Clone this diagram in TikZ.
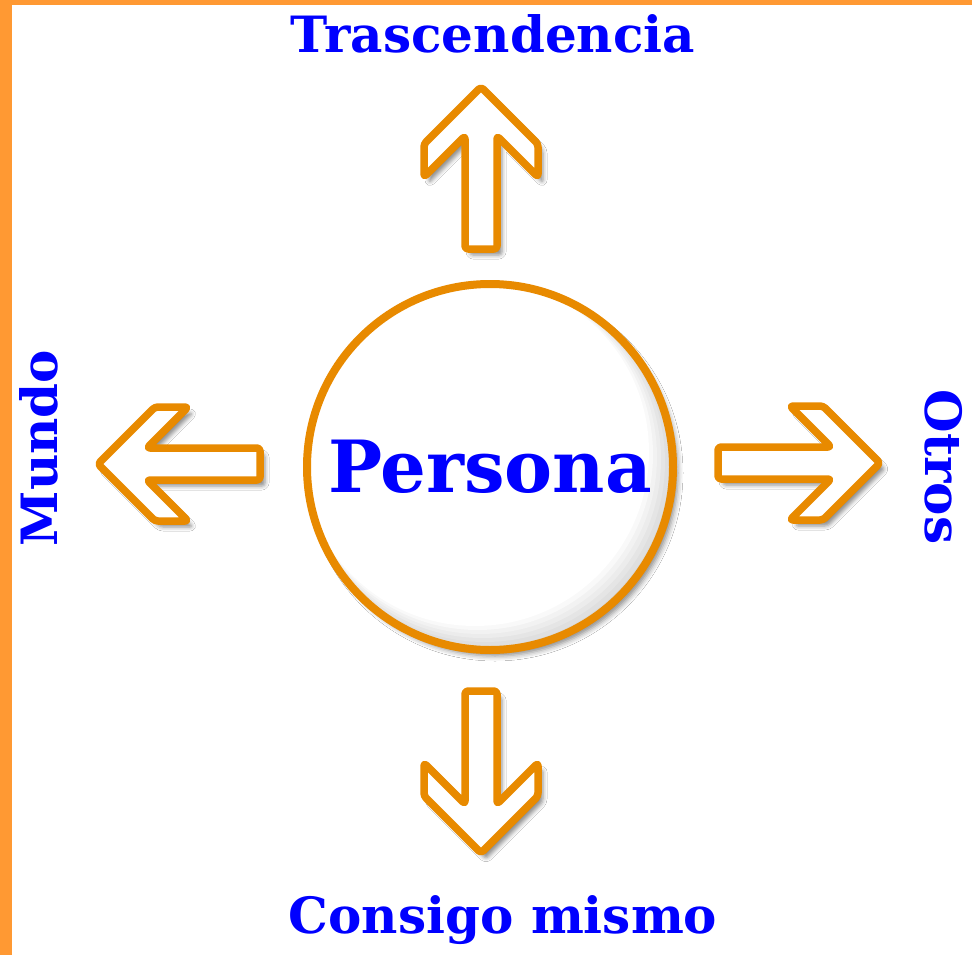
\documentclass[tikz,border=0pt]{standalone}
\usepackage{xcolor}
\usepackage{fontspec}
\setmainfont{DejaVu Serif}
\usepackage{tikz}
\usetikzlibrary{shapes.geometric, shadows.blur}
\definecolor{borde}{HTML}{FF9933}
\definecolor{naranja}{HTML}{E88A00}
\definecolor{azul}{HTML}{0000FF}
\tikzstyle{persona} = [circle, minimum size=366pt, inner sep=0pt, fill=white, blur shadow={shadow xshift=5pt, shadow yshift=-6pt, shadow blur radius=5pt, shadow opacity=45}]
\tikzstyle{anillo} = [draw=naranja, line width=8pt]
\tikzstyle{centro} = [text=azul, font=\bfseries\fontsize{72}{80}\selectfont]
\tikzstyle{etiqueta} = [text=azul, inner sep=0pt, anchor=base, font=\bfseries\fontsize{50}{54}\selectfont]
\tikzstyle{flechaborde} = [draw=naranja, fill=white, line width=7.5pt, rounded corners=3pt, line join=round, blur shadow={shadow xshift=5pt, shadow yshift=-6pt, shadow blur radius=4pt, shadow opacity=45}]
\tikzset{pics/flecha/.style={code={
	\draw[flechaborde]
		(0,0) -- (-57,57) -- (-90,57) -- (-49,16) -- (-162,16) -- (-162,-16) -- (-49,-16) -- (-90,-57) -- (-57,-57) -- cycle;
}}}

\begin{document}
\begin{tikzpicture}[x=1pt, y=1pt]
	
	\fill[white] (0,0) rectangle (972,-955);
	\fill[borde] (0,0) rectangle (12,-955);
	\fill[borde] (0,0) rectangle (972,-5);
	
	\node (pers) [persona] at (490,-467) {};
	% soft grey inside, lower right
	\begin{scope}
		\clip (pers.center) circle (183);
		\foreach \k in {0,...,6}
			\fill[white!\the\numexpr 100-(6-\k)*5\relax!gray] ($(pers.center)+(-2.5*\k,2.5*\k)$) circle ({183-1.5*\k});
	\end{scope}
	\draw[anillo] (pers.center) circle (183);
	\node (perstxt) [centro] at (pers.center) {Persona};
	
	\pic at (481,-87) [rotate=90] {flecha};
	\pic at (98,-464) [rotate=180] {flecha};
	\pic at (880,-463) {flecha};
	\pic at (481,-853) [rotate=-90] {flecha};
	
	\node (trasc) [etiqueta] at (493,-53) {Trascendencia};
	\node (consigo) [etiqueta] at (503,-933) {Consigo mismo};
	\node (mundo) [etiqueta, rotate=90] at (57,-448) {Mundo};
	\node (otros) [etiqueta, rotate=-90] at (925,-467) {Otros};
	
\end{tikzpicture}
\end{document}
